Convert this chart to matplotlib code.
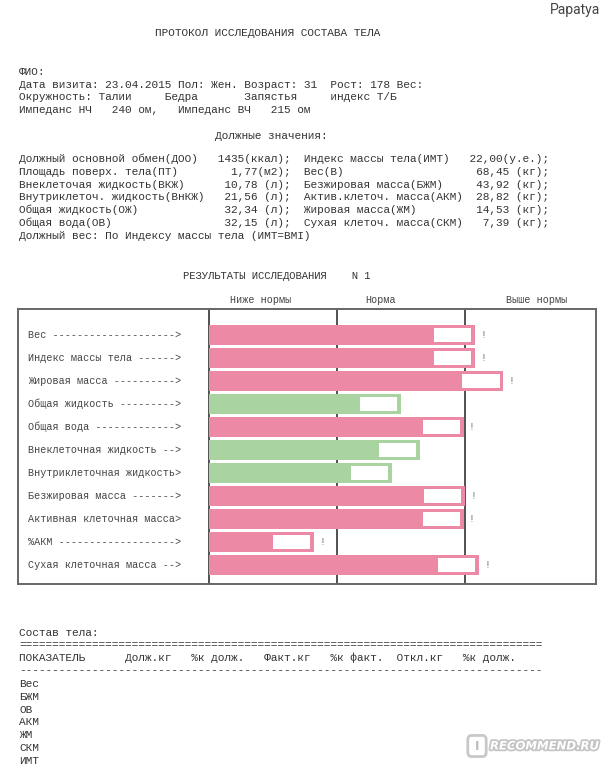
import numpy as np
import matplotlib
matplotlib.use("Agg")
import matplotlib.pyplot as plt
import matplotlib.patheffects as pe
from matplotlib.patches import FancyBboxPatch

W, H = 608, 768
MONO = "Liberation Mono"
INK = "#333333"

# шапка
title = "ПРОТОКОЛ ИССЛЕДОВАНИЯ СОСТАВА ТЕЛА"
info_lines = [
    "ФИО:",
    "Дата визита: 23.04.2015 Пол: Жен. Возраст: 31  Рост: 178 Вес:",
    "Окружность: Талии     Бедра       Запястья     индекс Т/Б",
    "Импеданс НЧ   240 ом,   Импеданс ВЧ   215 ом",
]

# должные значения
left_labels = ["Должный основной обмен(ДОО)", "Площадь поверх. тела(ПТ)",
               "Внеклеточая жидкость(ВКЖ)", "Внутриклеточ. жидкость(ВнКЖ)",
               "Общая жидкость(ОЖ)", "Общая вода(ОВ)"]
left_values = ["1435(ккал);", "1,77(м2);", "10,78 (л);", "21,56 (л);",
               "32,34 (л);", "32,15 (л);"]
right_labels = ["Индекс массы тела(ИМТ)", "Вес(В)", "Безжировая масса(БЖМ)",
                "Актив.клеточ. масса(АКМ)", "Жировая масса(ЖМ)",
                "Сухая клеточ. масса(СКМ)"]
right_values = ["22,00(у.е.);", "68,45 (кг);", "43,92 (кг);", "28,82 (кг);",
                "14,53 (кг);", "7,39 (кг);"]
due_weight = "Должный вес: По Индексу массы тела (ИМТ=BMI)"

# результаты (1 деление = одна колонка: ниже нормы / норма / выше нормы)
bar_labels = ["Вес -------------------->", "Индекс массы тела ------>",
              "Жировая масса ---------->", "Общая жидкость --------->",
              "Общая вода ------------->", "Внеклеточная жидкость -->",
              "Внутриклеточная жидкость>", "Безжировая масса ------->",
              "Активная клеточная масса>", "%АКМ ------------------->",
              "Сухая клеточная масса -->"]
bar_values = [2.08, 2.08, 2.30, 1.50, 1.99, 1.65, 1.43, 2.00, 1.99, 0.82, 2.11]
bar_high = [True, True, True, False, True, False, False, True, True, True, True]
zones = ["Ниже нормы", "Норма", "Выше нормы"]
zone_pos = [0.40, 1.34, 2.56]

# состав тела
table_cols = ["ПОКАЗАТЕЛЬ", "Долж.кг", "%к долж.", "Факт.кг", "%к факт.",
              "Откл.кг", "%к долж."]
table_col_start = [0, 16, 26, 37, 47, 57, 67]
table_rows = ["Вес", "БЖМ", "ОВ", "АКМ", "ЖМ", "СКМ", "ИМТ"]

PINK = "#ec8aa6"
GREEN = "#a9d3a1"

fig = plt.figure(figsize=(W / 100, H / 100), dpi=100)
fig.patch.set_facecolor("white")


def put(x, y, s, size=8, **kw):
    kw.setdefault("family", MONO)
    kw.setdefault("color", INK)
    fig.text(x / W, 1 - y / H, s, fontsize=size, va="center", **kw)


put(600, 10, "Papatya", size=10, family="Roboto", ha="right", color="#444444")
put(155, 33, title)
for i, s in enumerate(info_lines):
    put(19, 72 + i * 12.7, s)

put(215, 136, "Должные значения:")
for i in range(len(left_labels)):
    line = (left_labels[i].ljust(30) + left_values[i].rjust(11) + "  " +
            right_labels[i].ljust(25) + right_values[i].rjust(12))
    put(19, 159 + i * 12.8, line)
put(19, 159 + 6 * 12.8, due_weight)

put(183, 276, "РЕЗУЛЬТАТЫ ИССЛЕДОВАНИЯ    N 1", size=7.6)

# график
box_l, box_r, box_t, box_b = 18, 596, 309, 584
ax = fig.add_axes([box_l / W, 1 - box_b / H, (box_r - box_l) / W,
                   (box_b - box_t) / H])
px = 128.0
ax.set_xlim((box_l - 209) / px, (box_r - 209) / px)
pitch = 23.0
ax.set_ylim(10 + (box_b - 565) / pitch, -(335 - box_t) / pitch)
ax.set_xticks([])
ax.set_yticks([])
for sp in ax.spines.values():
    sp.set_color("#666666")
    sp.set_linewidth(1.4)

for xv in [0, 1, 2]:
    ax.axvline(xv, color="#222222", lw=1.1, zorder=1)

y = np.arange(len(bar_values))
vals = np.array(bar_values)
cols = [PINK if h else GREEN for h in bar_high]
ax.barh(y, vals, left=0, height=0.86, color=cols, zorder=2)
ax.barh(y, 0.29, left=vals - 0.32, height=0.64, color="white", zorder=3)
for yi, v, h in zip(y, vals, bar_high):
    if h:
        ax.text(v + 0.04, yi, "!", family=MONO, fontsize=7, color="#777777",
                ha="left", va="center")

lab_tr = ax.get_yaxis_transform()
for yi, s in zip(y, bar_labels):
    ax.text(0.017, yi, s, transform=lab_tr, family=MONO, fontsize=7.3,
            color="#444444", ha="left", va="center")

for s, xp in zip(zones, zone_pos):
    ax.text(xp, -1.13 - 9 / pitch, s, family=MONO, fontsize=7.3,
            color="#444444", ha="center", va="center", clip_on=False)

# таблица
put(19, 633, "Состав тела:")
put(19, 645, "=" * 79)
header = ""
for name, c in zip(table_cols, table_col_start):
    header = header.ljust(c) + name
put(19, 658, header)
put(19, 670, "-" * 79)
for i, r in enumerate(table_rows):
    put(19, 684 + i * 12.8, r)

# водяной знак
icon = FancyBboxPatch((469 / W, 1 - 755 / H), 16 / W, 18 / H,
                      boxstyle="round,pad=0.002,rounding_size=0.006",
                      transform=fig.transFigure, facecolor="white",
                      edgecolor="#c8c8c8", lw=2.0)
fig.patches.append(icon)
put(477, 746, "I", size=9, family="DejaVu Sans", weight="bold", ha="center",
    color="#bdbdbd")
put(490, 746, "RECOMMEND.RU", size=8.4, family="DejaVu Sans", weight="bold",
    style="italic", color="white",
    path_effects=[pe.withStroke(linewidth=2.5, foreground="#c4c4c4")])

fig.savefig("out.png", dpi=100)
